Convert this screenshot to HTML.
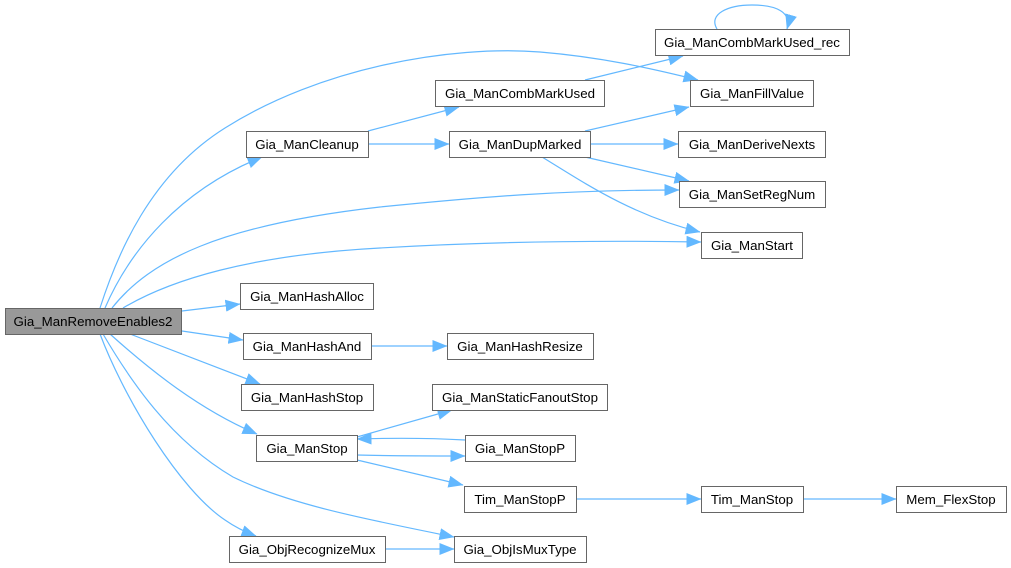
<!DOCTYPE html>
<html>
<head>
<meta charset="utf-8">
<style>
html,body{margin:0;padding:0;background:#fff;}
svg{display:block;}
text{font-family:"Liberation Sans",Arial,sans-serif;font-size:13.3px;fill:#000;text-anchor:middle;}
.n{fill:#fff;stroke:#666;stroke-width:1;}
.r{fill:#999;stroke:#666;stroke-width:1;}
.e{fill:none;stroke:#63b8ff;stroke-width:1.2;}
</style>
</head>
<body>
<svg width="1011" height="568" viewBox="0 0 1011 568" xmlns="http://www.w3.org/2000/svg">
<defs>
<marker id="a" markerWidth="15" markerHeight="12" refX="14.5" refY="6" orient="auto" markerUnits="userSpaceOnUse">
<path d="M0,0 L15,6 L0,12 z" fill="#63b8ff"/>
</marker>
</defs>

<!-- edges -->
<g>
<path class="e" marker-end="url(#a)" d="M100,308 C117,255 150,175 225,128 C320,68 450,45 540,52 C600,57 650,68 698,80"/>
<path class="e" marker-end="url(#a)" d="M105,308 C130,250 180,190 262,157"/>
<path class="e" marker-end="url(#a)" d="M112,308 C150,260 220,225 380,207 C480,197 560,190 679,190"/>
<path class="e" marker-end="url(#a)" d="M123,308 C170,280 250,255 380,248 C480,242 580,240 701,242"/>
<path class="e" marker-end="url(#a)" d="M182,311 L240,304"/>
<path class="e" marker-end="url(#a)" d="M182,331 L243,340"/>
<path class="e" marker-end="url(#a)" d="M130,334 L260,384"/>
<path class="e" marker-end="url(#a)" d="M110,334 C150,370 200,410 257,434"/>
<path class="e" marker-end="url(#a)" d="M103,334 C130,380 170,440 233,477 C290,505 370,520 454,537"/>
<path class="e" marker-end="url(#a)" d="M100,334 C125,400 180,490 225,520 C235,527 245,532 256,536"/>

<path class="e" marker-end="url(#a)" d="M368,131 L459,107"/>
<path class="e" marker-end="url(#a)" d="M368,144 L449,144"/>
<path class="e" marker-end="url(#a)" d="M585,80 L683,56"/>
<path class="e" marker-end="url(#a)" d="M585,131 L689,107"/>
<path class="e" marker-end="url(#a)" d="M590,144 L678,144"/>
<path class="e" marker-end="url(#a)" d="M585,157 L689,181"/>
<path class="e" marker-end="url(#a)" d="M542,157 C580,180 630,215 700,232"/>
<path class="e" marker-end="url(#a)" d="M717,29 C708,14 728,5 752,5 C776,5 792,12 787,29"/>

<path class="e" marker-end="url(#a)" d="M371,346 L447,346"/>
<path class="e" marker-end="url(#a)" d="M357,437 L452,410"/>
<path class="e" marker-end="url(#a)" d="M465,440 C430,438 390,438 357,439"/>
<path class="e" marker-end="url(#a)" d="M357,455 C390,456 430,456 465,456"/>
<path class="e" marker-end="url(#a)" d="M357,460 L463,485"/>
<path class="e" marker-end="url(#a)" d="M576,499 L701,499"/>
<path class="e" marker-end="url(#a)" d="M803,499 L896,499"/>
<path class="e" marker-end="url(#a)" d="M385,549 L454,549"/>
</g>

<!-- nodes -->
<rect class="r" x="5.5" y="308.5" width="176" height="26"/>
<text x="93" y="326">Gia_ManRemoveEnables2</text>

<rect class="n" x="246.5" y="131.5" width="122" height="26"/>
<text x="307" y="149">Gia_ManCleanup</text>

<rect class="n" x="655.5" y="29.5" width="194" height="26"/>
<text x="752" y="47">Gia_ManCombMarkUsed_rec</text>

<rect class="n" x="435.5" y="80.5" width="169" height="26"/>
<text x="520" y="98">Gia_ManCombMarkUsed</text>

<rect class="n" x="690.5" y="80.5" width="123" height="26"/>
<text x="752" y="98">Gia_ManFillValue</text>

<rect class="n" x="449.5" y="131.5" width="141" height="26"/>
<text x="520" y="149">Gia_ManDupMarked</text>

<rect class="n" x="678.5" y="131.5" width="147" height="26"/>
<text x="752" y="149">Gia_ManDeriveNexts</text>

<rect class="n" x="679.5" y="181.5" width="146" height="26"/>
<text x="752" y="199">Gia_ManSetRegNum</text>

<rect class="n" x="701.5" y="232.5" width="101" height="26"/>
<text x="752" y="250">Gia_ManStart</text>

<rect class="n" x="240.5" y="283.5" width="133" height="26"/>
<text x="307" y="301">Gia_ManHashAlloc</text>

<rect class="n" x="243.5" y="333.5" width="128" height="26"/>
<text x="307" y="351">Gia_ManHashAnd</text>

<rect class="n" x="447.5" y="333.5" width="146" height="26"/>
<text x="520" y="351">Gia_ManHashResize</text>

<rect class="n" x="241.5" y="384.5" width="132" height="26"/>
<text x="307" y="402">Gia_ManHashStop</text>

<rect class="n" x="432.5" y="384.5" width="175" height="26"/>
<text x="520" y="402">Gia_ManStaticFanoutStop</text>

<rect class="n" x="256.5" y="435.5" width="101" height="26"/>
<text x="307" y="453">Gia_ManStop</text>

<rect class="n" x="465.5" y="435.5" width="110" height="26"/>
<text x="520" y="453">Gia_ManStopP</text>

<rect class="n" x="464.5" y="486.5" width="112" height="26"/>
<text x="520" y="504">Tim_ManStopP</text>

<rect class="n" x="701.5" y="486.5" width="102" height="26"/>
<text x="752" y="504">Tim_ManStop</text>

<rect class="n" x="896.5" y="486.5" width="110" height="26"/>
<text x="951" y="504">Mem_FlexStop</text>

<rect class="n" x="229.5" y="536.5" width="156" height="26"/>
<text x="307" y="554">Gia_ObjRecognizeMux</text>

<rect class="n" x="454.5" y="536.5" width="132" height="26"/>
<text x="520" y="554">Gia_ObjIsMuxType</text>
</svg>
</body>
</html>
